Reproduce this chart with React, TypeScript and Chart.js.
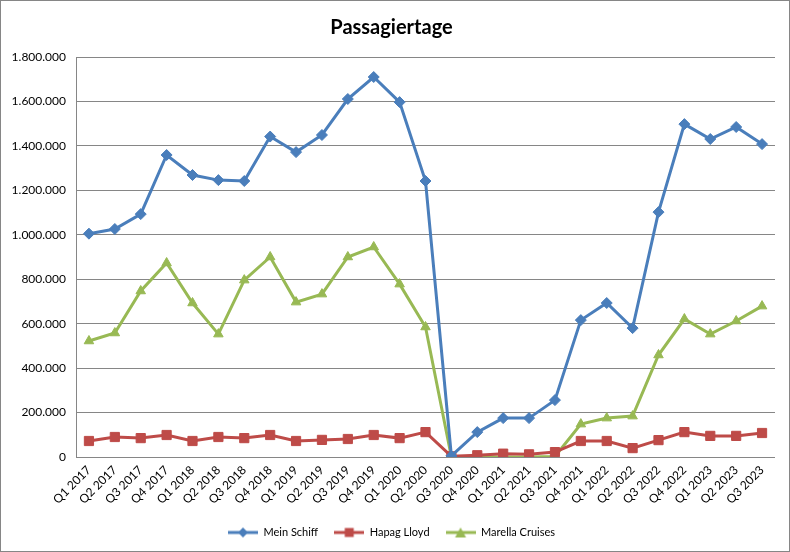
import { useEffect, useRef } from 'react';
import { Chart, registerables } from 'chart.js';

Chart.register(...registerables);

const quarters = [
  'Q1 2017', 'Q2 2017', 'Q3 2017', 'Q4 2017',
  'Q1 2018', 'Q2 2018', 'Q3 2018', 'Q4 2018',
  'Q1 2019', 'Q2 2019', 'Q3 2019', 'Q4 2019',
  'Q1 2020', 'Q2 2020', 'Q3 2020', 'Q4 2020',
  'Q1 2021', 'Q2 2021', 'Q3 2021', 'Q4 2021',
  'Q1 2022', 'Q2 2022', 'Q3 2022', 'Q4 2022',
  'Q1 2023', 'Q2 2023', 'Q3 2023',
];

const meinSchiff = [
  1005000, 1026000, 1093000, 1359000,
  1269000, 1246000, 1242000, 1442000,
  1372000, 1449000, 1611000, 1710000,
  1597000, 1242000, 5000, 112000,
  175000, 175000, 256000, 616000,
  693000, 580000, 1102000, 1498000,
  1431000, 1485000, 1408000,
];

const hapagLloyd = [
  72000, 90000, 85000, 99000,
  72000, 90000, 85000, 99000,
  72000, 77000, 81000, 99000,
  85000, 112000, 3000, 8000,
  15000, 12000, 22000, 72000,
  72000, 40000, 76000, 112000,
  95000, 95000, 108000,
];

const marella = [
  522000, 558000, 747000, 873000,
  693000, 553000, 796000, 900000,
  697000, 733000, 900000, 945000,
  778000, 585000, 0, 0,
  0, 0, 2000, 148000,
  175000, 184000, 459000, 621000,
  553000, 612000, 679000,
];

const seriesNames = ['Mein Schiff', 'Hapag Lloyd', 'Marella Cruises'];
const seriesColors = ['#4A7EBB', '#BE4B48', '#98B954'];
const seriesMarkers = ['rectRot', 'rect', 'triangle'] as const;

const FONT = 'Lato, "Liberation Sans", sans-serif';

// 1.800.000 style
const formatDe = (v: number) =>
  String(Math.round(v)).replace(/\B(?=(\d{3})+(?!\d))/g, '.');

// legend swatch: line with marker in the middle, like Excel
function legendSwatch(color: string, marker: string) {
  const c = document.createElement('canvas');
  c.width = 30;
  c.height = 12;
  const ctx = c.getContext('2d')!;
  ctx.strokeStyle = color;
  ctx.fillStyle = color;
  ctx.lineWidth = 3;
  ctx.beginPath();
  ctx.moveTo(0, 6);
  ctx.lineTo(30, 6);
  ctx.stroke();
  ctx.beginPath();
  if (marker === 'rectRot') {
    ctx.moveTo(15, 1);
    ctx.lineTo(20, 6);
    ctx.lineTo(15, 11);
    ctx.lineTo(10, 6);
  } else if (marker === 'rect') {
    ctx.rect(10.5, 1.5, 9, 9);
  } else {
    ctx.moveTo(15, 1);
    ctx.lineTo(20.5, 11);
    ctx.lineTo(9.5, 11);
  }
  ctx.closePath();
  ctx.fill();
  return c;
}

const borderPlugin = {
  id: 'outerBorder',
  afterDraw(chart: Chart) {
    const { ctx, width, height } = chart;
    ctx.save();
    ctx.strokeStyle = '#868686';
    ctx.lineWidth = 1;
    ctx.strokeRect(0.5, 0.5, width - 1, height - 1);
    ctx.restore();
  },
};

export default function App() {
  const canvasRef = useRef<HTMLCanvasElement | null>(null);

  useEffect(() => {
    const canvas = canvasRef.current;
    if (!canvas) return;

    const data = [meinSchiff, hapagLloyd, marella];

    const chart = new Chart(canvas, {
      type: 'line',
      data: {
        labels: quarters,
        datasets: data.map((values, i) => ({
          label: seriesNames[i],
          data: values,
          borderColor: seriesColors[i],
          backgroundColor: seriesColors[i],
          borderWidth: 3,
          pointStyle: seriesMarkers[i],
          pointRadius: i === 1 ? 6.5 : 5.5,
          pointBorderWidth: 1,
          tension: 0,
        })),
      },
      options: {
        responsive: false,
        animation: false,
        devicePixelRatio: 1,
        layout: { padding: { top: 10, left: 8, right: 15, bottom: 4 } },
        scales: {
          x: {
            offset: true,
            grid: { display: false, drawTicks: false },
            border: { display: false },
            ticks: {
              autoSkip: false,
              minRotation: 45,
              maxRotation: 45,
              padding: 6,
              color: '#000',
              font: { family: FONT, size: 12 },
            },
            afterFit(scale: any) {
              scale.height = 54;
            },
          },
          y: {
            min: 0,
            max: 1800000,
            ticks: {
              stepSize: 200000,
              padding: 10,
              color: '#000',
              font: { family: FONT, size: 12 },
              callback: (v: any) => formatDe(Number(v)),
            },
            grid: { color: '#868686', drawTicks: false },
            border: { display: true, color: '#868686' },
            afterFit(scale: any) {
              scale.width = 68;
            },
          },
        },
        plugins: {
          title: {
            display: true,
            text: 'Passagiertage',
            color: '#000',
            font: { family: FONT, size: 20, weight: 'bold' },
            padding: { top: 6, bottom: 17 },
          },
          legend: {
            position: 'bottom',
            labels: {
              usePointStyle: true,
              pointStyleWidth: 30,
              boxHeight: 12,
              padding: 16,
              color: '#000',
              font: { family: FONT, size: 11 },
              generateLabels: () =>
                seriesNames.map((name, i) => ({
                  text: name,
                  fillStyle: seriesColors[i],
                  strokeStyle: seriesColors[i],
                  lineWidth: 0,
                  pointStyle: legendSwatch(seriesColors[i], seriesMarkers[i]),
                  datasetIndex: i,
                  hidden: false,
                })),
            },
          },
          tooltip: { enabled: false },
        },
      },
      plugins: [borderPlugin],
    });

    return () => chart.destroy();
  }, []);

  return (
    <div style={{ position: 'fixed', left: 0, top: 0, width: 790, height: 552, background: '#fff' }}>
      <canvas ref={canvasRef} width={790} height={552} />
    </div>
  );
}
